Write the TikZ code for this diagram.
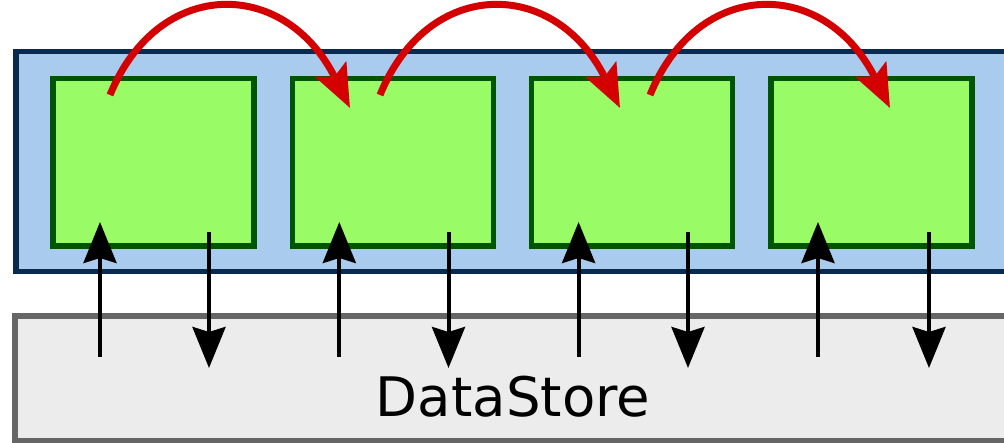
\documentclass[tikz,border=0pt]{standalone}
\usepackage{fontspec}
\setmainfont{DejaVu Sans}
\usetikzlibrary{arrows.meta,calc}
\definecolor{bluefill}{HTML}{A9CBEE}
\definecolor{blueline}{HTML}{0B2A50}
\definecolor{greenfill}{HTML}{99FB66}
\definecolor{greenline}{HTML}{005500}
\definecolor{redarr}{HTML}{D40000}
\definecolor{grayfill}{HTML}{ECECEC}
\definecolor{grayline}{HTML}{666666}
\begin{document}
\begin{tikzpicture}[x=1pt,y=-1pt,
  panel/.style={draw=blueline, fill=bluefill, line width=5.5pt, inner sep=0pt, outer sep=0pt,
    minimum width=994pt, minimum height=220pt},
  store/.style={draw=grayline, fill=grayfill, line width=6pt, inner sep=0pt, outer sep=0pt,
    minimum width=995pt, minimum height=125pt},
  task/.style={draw=greenline, fill=greenfill, line width=5.5pt, inner sep=0pt, outer sep=0pt,
    minimum width=201pt, minimum height=167.5pt},
  flow/.style={draw=redarr, line width=7pt, -{Stealth[length=43pt,width=34pt,inset=8pt]}},
  io/.style={draw=black, line width=4pt, -{Stealth[length=41pt,width=33pt,inset=5pt]}},
  label/.style={font=\fontsize{54.5pt}{62pt}\selectfont, inner sep=0pt, anchor=base}
]
\clip (0,0) rectangle (1004,443);
\node[panel] (panel) at (513,161.5) {};
\node[store] (ds) at (512.5,378.5) {};
\node[label] (dstext) at (513,417) {DataStore};
\foreach \i/\x in {1/153.5,2/392.8,3/632.1,4/871.4}{
  \node[task] (b\i) at (\x,162.25) {};
}
% red flow arrows
\foreach \i/\s in {1/110,2/380,3/650}{
  \coordinate (r\i s) at (\s,95);
  \coordinate (r\i e) at (\s+240,108);
  \draw[flow] (r\i s) .. controls ($(r\i s)+(48,-118)$) and ($(r\i e)+(-65,-131)$) .. (r\i e);
}
% black io arrows
\foreach \i/\u/\d in {1/100/209,2/339.3/448.5,3/578.6/688,4/818/929}{
  \coordinate (up\i s) at (\u,357);
  \coordinate (up\i e) at (\u,222);
  \coordinate (dn\i s) at (\d,232);
  \coordinate (dn\i e) at (\d,368);
  \draw[io] (up\i s) -- (up\i e);
  \draw[io] (dn\i s) -- (dn\i e);
}
\end{tikzpicture}
\end{document}
